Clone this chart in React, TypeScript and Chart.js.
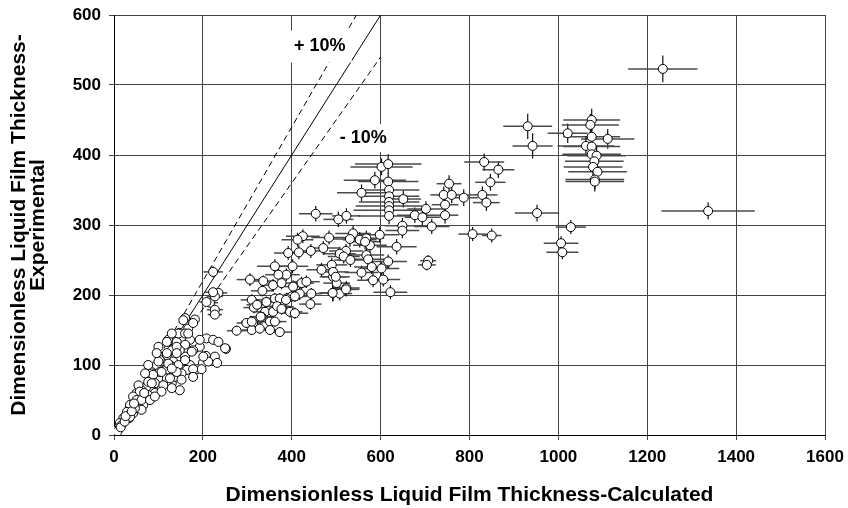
import { useEffect, useRef } from 'react';
import { Chart, registerables } from 'chart.js';

Chart.register(...registerables);

// Measured points without visible error bars (dense cluster near the diagonal)
const lowX = [160, 182, 147, 167, 122, 141, 171, 160, 193, 208, 223, 235, 252, 207, 227, 232, 200, 186, 171, 160, 148, 130, 119, 103, 96, 133, 145, 119, 85, 100, 119, 130, 148, 107, 81, 73, 92, 77, 58, 47, 55, 36, 43, 29, 21, 13, 6, 34, 51, 62, 103, 137, 164, 178, 193, 141, 126, 152, 66, 62,
  156, 178, 250, 212, 201, 197, 178, 130, 145, 119, 175, 141, 160, 122, 100, 141, 107, 88, 77, 92, 111, 126, 55, 58, 43, 51, 62, 81, 36, 47, 29, 36, 21, 13, 10, 17, 100, 96, 77, 70, 119, 130, 107, 92, 152, 178, 130, 160, 167,
  3, 5, 8, 15, 24, 26, 40, 45, 68, 85];
const lowY = [167, 165, 146, 152, 136, 133, 136, 129, 126, 138, 136, 133, 123, 113, 112, 103, 103, 94, 100, 112, 121, 121, 114, 107, 100, 105, 100, 93, 88, 81, 81, 74, 64, 69, 74, 69, 60, 57, 55, 50, 43, 40, 31, 29, 21, 14, 7, 24, 60, 64, 90, 83, 93, 121, 136, 126, 100, 88, 43, 36,
  164, 160, 124, 105, 112, 94, 94, 67, 145, 133, 119, 117, 107, 102, 105, 90, 90, 86, 76, 74, 71, 81, 71, 62, 55, 50, 50, 50, 43, 38, 33, 26, 24, 17, 10, 14, 126, 117, 100, 88, 117, 95, 62, 55, 79, 83, 145, 145, 145,
  3, 6, 5, 11, 19, 27, 34, 45, 60, 74];

// Measured points with error bars
const barX = [223, 235, 216, 227, 227, 227, 223, 208, 306, 336, 334, 362, 402, 388, 370, 358, 377, 403, 422, 433, 444, 442, 418, 400, 388, 362, 343, 310, 315, 322, 340, 358, 377, 396, 332, 298, 313, 310, 328, 351, 362, 351, 373, 276,
  490, 467, 493, 501, 493, 508, 523, 425, 413, 484, 538, 531, 553, 568, 576, 565, 598, 636, 522, 508, 517, 532, 568, 572, 471, 443, 416, 392, 493, 499, 492, 522, 557, 580, 602, 617, 606, 583, 622, 407, 373, 387, 367, 377, 407, 330, 310,
  602, 617, 587, 617, 557, 619, 619, 651, 619, 619, 619, 619, 677, 694, 702, 715, 649, 649, 754, 742, 760, 787, 745, 745, 829, 838, 847, 865, 833, 454, 505, 523, 707, 704, 807, 850, 952,
  931, 942, 1021, 1075, 1072, 1075, 1111, 1062, 1075, 1075, 1086, 1081, 1078, 1088, 1082, 1082, 1028, 1006, 1009, 1337, 1235];
const barY = [233, 203, 189, 198, 179, 172, 204, 190, 222, 220, 206, 241, 241, 229, 229, 214, 217, 212, 217, 219, 202, 187, 202, 198, 195, 195, 190, 193, 182, 186, 176, 176, 183, 176, 169, 160, 160, 150, 152, 162, 162, 150, 147, 149,
  243, 236, 226, 217, 203, 202, 210, 284, 279, 282, 288, 280, 279, 281, 271, 276, 286, 269, 263, 259, 255, 250, 257, 251, 267, 263, 261, 260, 233, 226, 203, 208, 232, 240, 238, 248, 222, 221, 204, 198, 195, 193, 184, 180, 174, 169, 162,
  383, 387, 364, 362, 346, 350, 341, 337, 333, 327, 321, 313, 314, 311, 323, 298, 299, 292, 359, 343, 343, 339, 329, 314, 343, 332, 361, 379, 390, 316, 308, 313, 249, 243, 287, 285, 317,
  441, 413, 431, 450, 443, 426, 423, 413, 412, 401, 399, 391, 383, 376, 365, 362, 297, 274, 261, 320, 523];
const barXErr = [22, 20, 18, 18, 18, 16, 18, 16, 30, 28, 26, 40, 35, 30, 30, 28, 30, 32, 28, 30, 25, 25, 30, 28, 28, 28, 26, 25, 24, 24, 26, 26, 28, 28, 25, 22, 22, 22, 24, 26, 26, 26, 28, 22,
  35, 34, 30, 30, 28, 28, 30, 38, 36, 40, 40, 38, 38, 40, 38, 36, 44, 45, 38, 36, 36, 36, 40, 40, 36, 34, 34, 32, 35, 32, 30, 30, 38, 40, 40, 42, 38, 36, 38, 28, 28, 28, 28, 28, 30, 25, 24,
  70, 75, 70, 68, 55, 68, 68, 40, 68, 75, 80, 70, 40, 40, 42, 40, 40, 38, 28, 30, 30, 32, 30, 30, 34, 30, 34, 36, 45, 38, 34, 32, 18, 20, 32, 22, 50,
  55, 45, 45, 64, 64, 64, 60, 64, 64, 66, 66, 66, 66, 66, 66, 66, 34, 39, 36, 105, 78];
const barYErr = [8, 6, 6, 6, 6, 6, 6, 6, 9, 8, 8, 10, 10, 9, 9, 9, 9, 9, 9, 9, 8, 8, 9, 8, 8, 8, 8, 8, 8, 8, 8, 8, 8, 8, 7, 7, 7, 7, 7, 7, 7, 7, 7, 7,
  10, 10, 12, 12, 12, 10, 10, 10, 10, 10, 11, 11, 11, 11, 11, 11, 11, 11, 10, 10, 10, 10, 10, 10, 10, 10, 10, 10, 12, 12, 12, 10, 10, 10, 10, 10, 10, 10, 10, 8, 8, 8, 8, 8, 8, 8, 8,
  12, 14, 12, 12, 12, 12, 12, 12, 12, 12, 12, 12, 11, 11, 11, 11, 11, 11, 12, 12, 12, 12, 12, 12, 12, 12, 12, 12, 12, 11, 11, 11, 8, 8, 10, 10, 12,
  18, 18, 14, 16, 16, 16, 14, 14, 14, 14, 14, 14, 14, 14, 14, 14, 10, 10, 10, 12, 19];

// Reference lines: y = x, +10 %, -10 %
const perfectX = [0, 600];
const perfectY = [0, 600];
const plusX = [0, 545.5];
const plusY = [0, 600];
const minusX = [0, 600];
const minusY = [0, 540];

// Annotation labels (data coordinates)
const labelText = ['+ 10%', '- 10%'];
const labelX = [463, 561];
const labelY = [555, 424];
const labelHalfW = [32, 29];
const labelHalfH = [16, 14];

const FONT = "'Liberation Sans', Arial, sans-serif";

const errorBarPlugin = {
  id: 'errorBars',
  beforeDatasetsDraw(chart: any) {
    const { ctx, chartArea, scales } = chart;
    const xs = scales.x;
    const ys = scales.y;
    ctx.save();
    ctx.beginPath();
    ctx.rect(chartArea.left, chartArea.top, chartArea.right - chartArea.left, chartArea.bottom - chartArea.top);
    ctx.clip();
    for (let i = 0; i < barX.length; i++) {
      const px = xs.getPixelForValue(barX[i]);
      const py = ys.getPixelForValue(barY[i]);
      ctx.strokeStyle = '#4a4a4a';
      ctx.lineWidth = 1.5;
      ctx.beginPath();
      ctx.moveTo(xs.getPixelForValue(barX[i] - barXErr[i]), py);
      ctx.lineTo(xs.getPixelForValue(barX[i] + barXErr[i]), py);
      ctx.stroke();
      ctx.strokeStyle = '#111';
      ctx.lineWidth = 1.2;
      ctx.beginPath();
      ctx.moveTo(px, ys.getPixelForValue(barY[i] - barYErr[i]));
      ctx.lineTo(px, ys.getPixelForValue(barY[i] + barYErr[i]));
      ctx.stroke();
    }
    ctx.restore();
  },
};

const labelPlugin = {
  id: 'bandLabels',
  afterDatasetsDraw(chart: any) {
    const { ctx, scales } = chart;
    ctx.save();
    for (let i = 0; i < labelText.length; i++) {
      const cx = scales.x.getPixelForValue(labelX[i]);
      const cy = scales.y.getPixelForValue(labelY[i]);
      ctx.fillStyle = '#fff';
      ctx.fillRect(cx - labelHalfW[i], cy - labelHalfH[i], labelHalfW[i] * 2, labelHalfH[i] * 2);
      ctx.fillStyle = '#000';
      ctx.font = `bold 18px ${FONT}`;
      ctx.textAlign = 'center';
      ctx.textBaseline = 'middle';
      ctx.fillText(labelText[i], cx, cy);
    }
    ctx.restore();
  },
};

export default function App() {
  const ref = useRef<HTMLCanvasElement | null>(null);
  useEffect(() => {
    if (!ref.current) return;
    const toPts = (xs: number[], ys: number[]) => xs.map((x, i) => ({ x, y: ys[i] }));
    const tickFont = { family: FONT, size: 17, weight: 'bold' };
    const titleFont = { family: FONT, size: 21, weight: 'bold', lineHeight: 0.92 };
    const chart = new Chart(ref.current, {
      type: 'scatter',
      data: {
        datasets: [
          {
            label: 'with error bars',
            data: toPts(barX, barY),
            pointRadius: 4.5,
            pointBorderWidth: 1,
            borderColor: '#000',
            backgroundColor: '#fff',
            pointBackgroundColor: '#fff',
            pointBorderColor: '#000',
          },
          {
            label: 'low',
            data: toPts(lowX, lowY),
            pointRadius: 4.5,
            pointBorderWidth: 1,
            borderColor: '#000',
            backgroundColor: '#fff',
            pointBackgroundColor: '#fff',
            pointBorderColor: '#000',
          },
          {
            type: 'line',
            label: 'y=x',
            data: toPts(perfectX, perfectY),
            borderColor: '#000',
            borderWidth: 1,
            pointRadius: 0,
            fill: false,
          } as any,
          {
            type: 'line',
            label: '+10%',
            data: toPts(plusX, plusY),
            borderColor: '#000',
            borderWidth: 1,
            borderDash: [6, 4],
            pointRadius: 0,
            fill: false,
          } as any,
          {
            type: 'line',
            label: '-10%',
            data: toPts(minusX, minusY),
            borderColor: '#000',
            borderWidth: 1,
            borderDash: [6, 4],
            pointRadius: 0,
            fill: false,
          } as any,
        ],
      },
      options: {
        responsive: false,
        animation: false,
        layout: { padding: { left: 0, top: 15, right: 23, bottom: 0 } },
        plugins: { legend: { display: false }, tooltip: { enabled: false } },
        scales: {
          x: {
            type: 'linear',
            min: 0,
            max: 1600,
            ticks: { stepSize: 200, color: '#000', padding: 7, font: tickFont, callback: (v: any) => String(v) },
            grid: { color: '#444', lineWidth: 1, tickLength: 5, drawTicks: true },
            border: { color: '#000', width: 1 },
            title: {
              display: true,
              text: 'Dimensionless Liquid Film Thickness-Calculated',
              color: '#000',
              font: titleFont,
              padding: { top: 0, bottom: 3.5 },
            },
            afterFit: (s: any) => { s.height = 73; s.paddingLeft = 0; s.paddingRight = 0; },
          },
          y: {
            type: 'linear',
            min: 0,
            max: 600,
            ticks: { stepSize: 100, color: '#000', padding: 8, font: tickFont, callback: (v: any) => String(v) },
            grid: { color: '#444', lineWidth: 1, tickLength: 5, drawTicks: true },
            border: { color: '#000', width: 1 },
            title: {
              display: true,
              text: ['Dimensionless Liquid Film Thickness-', 'Experimental'],
              color: '#000',
              font: titleFont,
              padding: { top: 9.5, bottom: 0 },
            },
            afterFit: (s: any) => { s.width = 114; s.paddingTop = 0; s.paddingBottom = 0; },
          },
        },
      } as any,
      plugins: [errorBarPlugin, labelPlugin],
    });
    return () => chart.destroy();
  }, []);
  return (
    <div style={{ position: 'fixed', left: 0, top: 0, width: 848, height: 508, background: '#fff' }}>
      <canvas ref={ref} width={848} height={508} />
    </div>
  );
}
